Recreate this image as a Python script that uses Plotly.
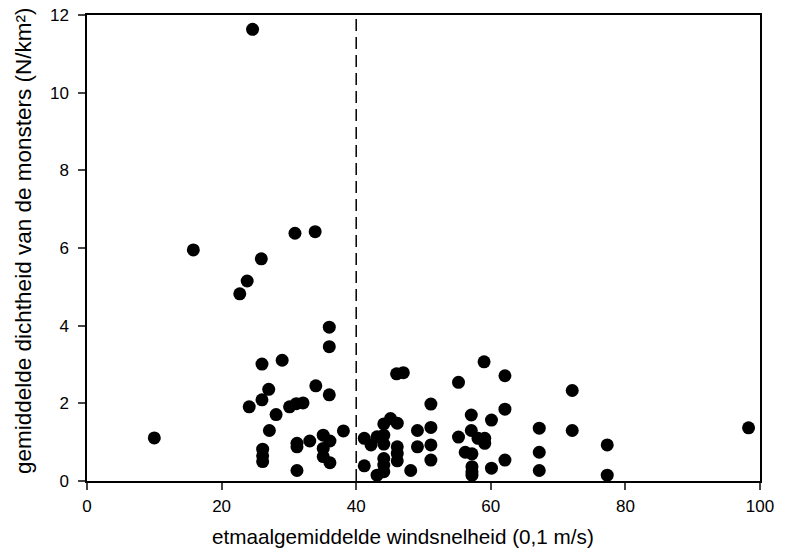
import plotly.graph_objects as go

wind = [24.6, 15.8, 23.8, 22.7, 25.9, 30.9, 33.9,
        36.0, 36.0, 26.0, 29.0, 27.0, 26.0, 24.1, 28.1, 30.1, 31.1, 32.1, 34.0, 36.0,
        10.0, 27.1, 26.1, 26.1, 26.1, 31.2, 31.2, 31.2, 33.1, 35.1, 36.1, 35.1, 35.1, 36.1, 38.1,
        41.2, 42.2, 41.2, 43.1, 44.1, 45.1, 46.1, 44.1, 44.1, 44.1, 44.1, 44.1, 43.1,
        46.1, 46.1, 46.1, 46.0, 47.0, 48.1, 49.1, 49.1,
        51.1, 51.1, 51.1, 51.1, 55.2, 59.0, 62.1, 62.1, 60.1, 57.1, 57.1, 55.2, 58.1, 59.1, 59.1,
        56.2, 57.2, 57.2, 57.2, 57.2, 60.1, 62.1, 67.2, 67.2, 67.2, 72.1, 72.1, 77.3, 77.3, 98.3]
density = [11.63, 5.95, 5.15, 4.82, 5.72, 6.38, 6.42,
           3.96, 3.46, 3.01, 3.11, 2.36, 2.09, 1.91, 1.71, 1.91, 1.99, 2.01, 2.45, 2.22,
           1.11, 1.30, 0.82, 0.65, 0.50, 0.97, 0.88, 0.27, 1.03, 1.18, 1.03, 0.84, 0.63, 0.47, 1.29,
           1.10, 0.93, 0.39, 1.14, 1.47, 1.61, 1.49, 1.18, 0.95, 0.58, 0.41, 0.24, 0.15,
           0.88, 0.71, 0.52, 2.76, 2.79, 0.27, 1.30, 0.88,
           1.98, 1.38, 0.93, 0.54, 2.54, 3.07, 2.71, 1.85, 1.57, 1.70, 1.30, 1.13, 1.10, 1.10, 0.97,
           0.74, 0.70, 0.37, 0.24, 0.15, 0.33, 0.54, 1.36, 0.74, 0.27, 2.33, 1.30, 0.93, 0.15, 1.37]

x_ticks = [0, 20, 40, 60, 80, 100]
y_ticks = [0, 2, 4, 6, 8, 10, 12]
threshold = 40
x_title = "etmaalgemiddelde windsnelheid (0,1 m/s)"
y_title = "gemiddelde dichtheid van de monsters (N/km²)"

fam = "Liberation Sans, Arial"
tickfont = dict(family=fam, size=17, color="black")

fig = go.Figure()
fig.add_trace(go.Scatter(x=wind, y=density, mode="markers",
                         marker=dict(size=13, color="black"), showlegend=False))
fig.add_shape(type="line", x0=threshold, x1=threshold, y0=0, y1=12, xref="x", yref="y",
              line=dict(color="black", width=1.5, dash="12px,6px"))

fig.add_annotation(text=x_title, xref="paper", yref="paper", x=0.4695, y=-0.120,
                   xanchor="center", yanchor="middle", showarrow=False,
                   font=dict(family=fam, size=20.7, color="black"))
fig.add_annotation(text=y_title, xref="paper", yref="paper", x=-0.0951, y=0.515,
                   xanchor="center", yanchor="middle", showarrow=False, textangle=-90,
                   font=dict(family=fam, size=22.5, color="black"))

fig.update_layout(
    width=789, height=554,
    margin=dict(l=87, r=29, t=15, b=73),
    paper_bgcolor="white", plot_bgcolor="white",
    xaxis=dict(range=[0, 100], tickvals=x_ticks, ticks="outside", ticklen=7, tickwidth=1.5,
               showline=True, linecolor="black", linewidth=1.5, mirror=True, showgrid=False,
               zeroline=False, tickfont=tickfont, automargin=False, ticklabelstandoff=2),
    yaxis=dict(range=[0, 12], tickvals=y_ticks, ticks="outside", ticklen=7, tickwidth=1.5,
               showline=True, linecolor="black", linewidth=1.5, mirror=True, showgrid=False,
               zeroline=False, tickfont=tickfont, automargin=False, ticklabelstandoff=6),
)

fig.write_html("out.html")
